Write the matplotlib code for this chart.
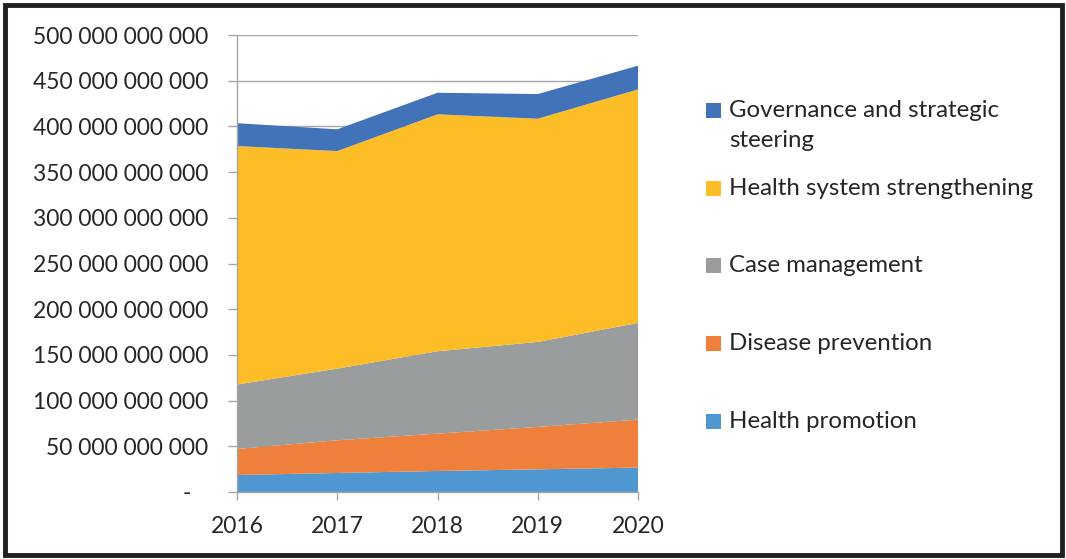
import matplotlib
matplotlib.use("Agg")
import matplotlib.pyplot as plt
from matplotlib.patches import Rectangle
from matplotlib.ticker import FixedLocator, FuncFormatter

# Budget by programme area (billions), 2016-2020
years = [2016, 2017, 2018, 2019, 2020]
health_promotion = [18.6, 20.8, 23.0, 24.8, 26.7]
disease_prevention = [28.5, 35.8, 40.9, 46.4, 52.5]
case_management = [70.5, 78.4, 90.1, 93.0, 105.8]
health_system = [260.9, 238.0, 259.2, 244.2, 255.5]
governance = [25.0, 23.8, 23.6, 27.0, 25.9]

labels = ["Health promotion", "Disease prevention", "Case management",
          "Health system strengthening", "Governance and strategic\nsteering"]
colors = ["#4F97D1", "#EF803B", "#9A9D9D", "#FCBD26", "#4272B8"]
y_ticks = [0, 50, 100, 150, 200, 250, 300, 350, 400, 450, 500]

plt.rcParams['font.family'] = ['Lato', 'DejaVu Sans']
text_color = "#262626"
axis_gray = "#A6A6A6"

fig = plt.figure(figsize=(10.66, 5.59), dpi=100)
ax = fig.add_axes([237 / 1066, 1 - 492 / 559, (638 - 237) / 1066, (492 - 35) / 559])

series = [health_promotion, disease_prevention, case_management, health_system, governance]
scale = 1e9
ax.stackplot(years, *[[v * scale for v in s] for s in series], colors=colors,
             linewidth=0, zorder=2)

ax.set_xlim(2016, 2020)
ax.set_ylim(0, 500 * scale)
ax.yaxis.set_major_locator(FixedLocator([t * scale for t in y_ticks]))
ax.set_xticks(years)


def fmt(v, pos):
    if v == 0:
        return "-   "
    return f"{int(round(v)):,}".replace(",", " ")


ax.yaxis.set_major_formatter(FuncFormatter(fmt))
ax.grid(axis="y", color=axis_gray, linewidth=1.0, zorder=0)
ax.set_axisbelow(True)

for s in ["top", "right"]:
    ax.spines[s].set_visible(False)
for s in ["left", "bottom"]:
    ax.spines[s].set_color(axis_gray)
    ax.spines[s].set_linewidth(1.0)
    ax.spines[s].set_zorder(3)

ax.tick_params(axis="y", length=6.5, width=1.0, color=axis_gray, pad=14,
               labelsize=16.5, labelcolor=text_color)
ax.tick_params(axis="x", length=6, width=1.0, color=axis_gray, pad=11,
               labelsize=16.5, labelcolor=text_color)

# Legend drawn in figure pixels, top entry first
legend_y = [110, 188, 265, 343, 421]
for lab, col, yp in zip(labels[::-1], colors[::-1], legend_y):
    fig.patches.append(Rectangle((706 / 1066, 1 - (yp + 7.5) / 559), 15 / 1066, 15 / 559,
                                 transform=fig.transFigure, facecolor=col,
                                 edgecolor="none"))
    fig.text(729 / 1066, 1 - (yp - 10) / 559, lab, fontsize=17.3, color=text_color,
             va="top", ha="left", linespacing=1.5)

# Frame around the whole figure
fig.patches.append(Rectangle((4.5 / 1066, 4.5 / 559), 1 - 9 / 1066, 1 - 9 / 559,
                             transform=fig.transFigure, facecolor="none",
                             edgecolor="#231F20", linewidth=3.5))

fig.savefig("out.png", dpi=100)
